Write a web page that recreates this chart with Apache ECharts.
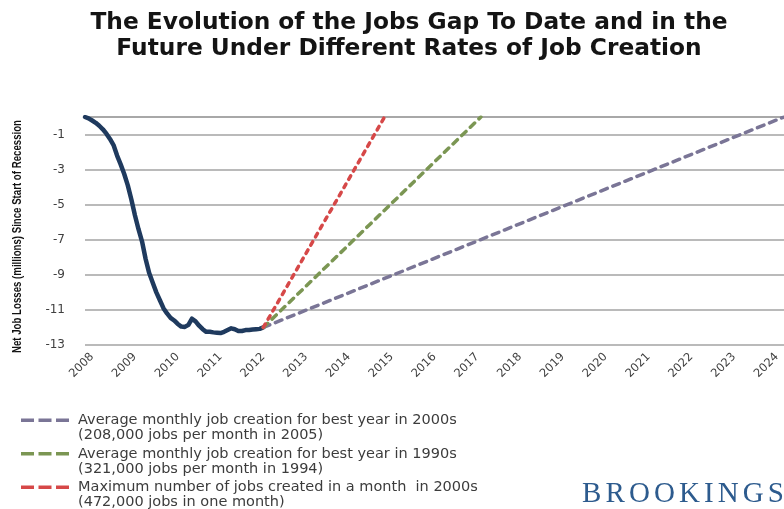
<!DOCTYPE html>
<html><head><meta charset="utf-8">
<script src="https://cdn.jsdelivr.net/npm/echarts@6/dist/echarts.min.js"></script>
<style>html,body{margin:0;padding:0;background:#fff}#c{width:784px;height:509px}</style>
</head><body><div id="c"></div>
<script>
// ---- data ----
const firstMonth = '2007-11';   // first category of the monthly axis
const lastMonth = '2024-03';    // last category of the monthly axis
const yearLabels = ['2008','2009','2010','2011','2012','2013','2014','2015','2016','2017','2018','2019','2020','2021','2022','2023','2024'];
const yTickLabels = [-13, -11, -9, -7, -5, -3, -1];
// Jobs gap (millions), monthly from Nov 2007 to Jan 2012
const jobsGap = [0.0, -0.08, -0.2, -0.33, -0.5, -0.7, -0.95, -1.25, -1.6, -2.2, -2.7, -3.25,
  -3.9, -4.7, -5.6, -6.4, -7.1, -8.1, -8.9, -9.45, -10.0, -10.45, -10.9, -11.2,
  -11.45, -11.6, -11.8, -11.95, -11.97, -11.85, -11.5, -11.65, -11.9, -12.1, -12.25, -12.25,
  -12.28, -12.3, -12.32, -12.25, -12.15, -12.05, -12.1, -12.2, -12.2, -12.15, -12.15, -12.12,
  -12.1, -12.08, -12.0];
const best2000s = [['2012-01', -12.0], ['2024-03', 0]];
const best1990s = [['2012-01', -12.0], ['2017-02', 0]];
const max2000s  = [['2012-01', -12.0], ['2014-11', 0]];
const seriesNames = [
  'Average monthly job creation for best year in 2000s',
  'Average monthly job creation for best year in 1990s',
  'Maximum number of jobs created in a month  in 2000s'
];
const seriesNotes = [
  '(208,000 jobs per month in 2005)',
  '(321,000 jobs per month in 1994)',
  '(472,000 jobs in one month)'
];
const titleText = 'The Evolution of the Jobs Gap To Date and in the\nFuture Under Different Rates of Job Creation';
const yName = 'Net Job Losses (millions) Since Start of Recession';
const logoText = 'BROOKINGS';

// ---- build month categories ----
const months = [];
(function(){
  let [y, m] = firstMonth.split('-').map(Number);
  const [ey, em] = lastMonth.split('-').map(Number);
  while (y < ey || (y === ey && m <= em)) {
    months.push(y + '-' + String(m).padStart(2, '0'));
    m++; if (m > 12) { m = 1; y++; }
  }
})();

const chart = echarts.init(document.getElementById('c'), null, {renderer: 'canvas'});
const ctx = document.createElement('canvas').getContext('2d');

// logo letters with spacing
const logoFont = '29px "Liberation Serif"';
ctx.font = logoFont;
const widths = logoText.split('').map(ch => ctx.measureText(ch).width);
const logoLeft = 582, logoRight = 784;
const total = widths.reduce((a, b) => a + b, 0);
const gap = (logoRight - logoLeft - total) / (logoText.length - 1);
const logoChildren = [];
let lx = logoLeft;
logoText.split('').forEach((ch, i) => {
  logoChildren.push({type: 'text', x: lx, y: 509, style: {text: ch, font: logoFont, fill: '#2d5b8e', textVerticalAlign: 'bottom'}});
  lx += widths[i] + gap;
});

// condensed rotated y-axis title
const yNameFont = 'bold 12px "Liberation Sans"';
ctx.font = yNameFont;
const yNameScale = 233 / ctx.measureText(yName).width;

const legendIcon = 'path://M0,0M52,30M0,5.5h13v3.5h-13zM17.5,5.5h13v3.5h-13zM35,5.5h13v3.5h-13z';
const dashColors = ['#7a7596', '#7b9653', '#d64848'];

chart.setOption({
  backgroundColor: '#fff',
  animation: false,
  title: {
    text: titleText,
    left: 404, top: 5, textAlign: 'center',
    textStyle: {fontFamily: 'DejaVu Sans', fontWeight: 'bold', fontSize: 23.3, lineHeight: 26, color: '#141414'}
  },
  grid: {left: 85, right: 0, top: 117, bottom: 164, containLabel: false},
  legend: {
    orient: 'vertical', left: 16, top: 408, padding: 5, height: 140,
    itemWidth: 52, itemHeight: 30, itemGap: 3.5,
    data: seriesNames.map((n, i) => ({name: n, icon: legendIcon, itemStyle: {color: dashColors[i]}})),
    formatter: name => name + '\n' + seriesNotes[seriesNames.indexOf(name)],
    textStyle: {fontFamily: 'DejaVu Sans', fontSize: 14.5, lineHeight: 15, color: '#3c3c3c'},
    selectedMode: false
  },
  xAxis: {
    type: 'category', data: months, boundaryGap: false,
    axisLine: {lineStyle: {color: '#a3a3a3', width: 1.5}},
    axisTick: {show: false},
    splitLine: {show: false},
    axisLabel: {
      interval: (idx, val) => yearLabels.indexOf(val.slice(0, 4)) >= 0 && val.slice(5) === '01',
      formatter: val => val.slice(0, 4),
      rotate: 45, margin: 10,
      fontFamily: 'DejaVu Sans', fontSize: 11.5, color: '#404040'
    }
  },
  yAxis: {
    type: 'value', min: -13, max: 0,
    axisLine: {show: false},
    axisTick: {show: false, customValues: yTickLabels.concat([0])},
    axisLabel: {customValues: yTickLabels, margin: 20, fontFamily: 'DejaVu Sans', fontSize: 12, color: '#404040'},
    splitLine: {show: true, lineStyle: {color: '#a3a3a3', width: 1.5}}
  },
  graphic: [
    {type: 'group', children: logoChildren},
    {type: 'text', x: 18, y: 236.5, rotation: Math.PI / 2, scaleX: yNameScale, scaleY: 1,
     style: {text: yName, font: yNameFont, fill: '#111', textAlign: 'center', textVerticalAlign: 'middle'}}
  ],
  series: [
    {name: 'Jobs gap', type: 'line', data: jobsGap, showSymbol: false, symbol: 'none',
     lineStyle: {color: '#1f3a5e', width: 4.5, cap: 'round', join: 'round'}, color: '#1f3a5e', z: 2},
    {name: seriesNames[0], type: 'line', data: best2000s, symbol: 'none', color: dashColors[0],
     lineStyle: {color: dashColors[0], width: 3.5, type: [7, 6], cap: 'round'}, z: 3},
    {name: seriesNames[1], type: 'line', data: best1990s, symbol: 'none', color: dashColors[1],
     lineStyle: {color: dashColors[1], width: 3.5, type: [6, 6], cap: 'round'}, z: 3},
    {name: seriesNames[2], type: 'line', data: max2000s, symbol: 'none', color: dashColors[2],
     lineStyle: {color: dashColors[2], width: 3.5, type: [4, 5.5], cap: 'round'}, z: 3}
  ]
});
</script></body></html>
